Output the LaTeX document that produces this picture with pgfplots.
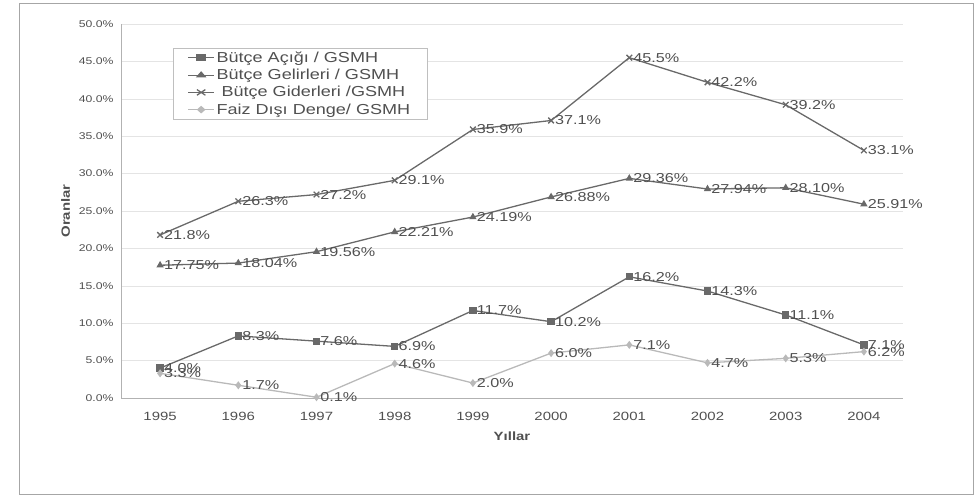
\documentclass[border=0pt]{standalone}
\usepackage{fontspec}
\setmainfont{Liberation Sans}[FakeStretch=1.25]
\usepackage{pgfplots}
\pgfplotsset{compat=1.18}

\definecolor{lineDark}{RGB}{105,105,105}
\definecolor{lineLight}{RGB}{185,185,185}
\definecolor{txt}{RGB}{80,80,80}
\definecolor{gridc}{RGB}{228,228,228}

\begin{document}
\begin{tikzpicture}
\begin{axis}[
  scale only axis,
  width=782bp, height=374bp,
  xmin=-0.5, xmax=9.5,
  ymin=0, ymax=50,
  xtick={0,...,9},
  xticklabels={1995,1996,1997,1998,1999,2000,2001,2002,2003,2004},
  ytick={0,5,...,50},
  yticklabel={\pgfmathprintnumber[fixed,fixed zerofill,precision=1]{\tick}\%},
  /pgf/number format/assume math mode=true,
  yticklabel style={font=\fontsize{9.8}{12}\selectfont, text=txt, xshift=-4bp},
  xticklabel style={font=\fontsize{12}{14}\selectfont, text=txt, yshift=-11bp},
  major tick length=0pt,
  axis lines*=left,
  axis line style={draw=gray!60, line width=0.8pt},
  ymajorgrids, grid style={draw=gridc, line width=0.6pt},
  xlabel={\textbf{Yıllar}},
  ylabel={\textbf{Oranlar}},
  label style={font=\fontsize{12}{14}\selectfont, text=txt},
  xlabel style={yshift=-4bp},
  ylabel style={yshift=2bp},
  clip=false,
  legend style={at={(rel axis cs:0.066,0.937)}, anchor=north west,
    draw=gray!50, font=\fontsize{14.5}{17}\selectfont, text=txt,
    row sep=1.3pt, inner xsep=15pt, inner ysep=2pt,
    nodes={inner sep=2pt}},
  legend image post style={xscale=1.5},
  legend cell align=left,
  nodes near coords,
  every node near coord/.append style={anchor=west, xshift=0bp, text=txt,
    font=\fontsize{13}{15}\selectfont},
  every axis plot/.append style={line width=1.3pt},
]
% Budget deficit / GNP
\addplot[color=lineDark, mark=square*, mark size=3pt,
  mark options={fill=lineDark},
  nodes near coords={\pgfmathprintnumber[fixed,fixed zerofill,precision=1]{\pgfplotspointmeta}\%}]
  coordinates {(0,4.0)(1,8.3)(2,7.6)(3,6.9)(4,11.7)(5,10.2)(6,16.2)(7,14.3)(8,11.1)(9,7.1)};
\addlegendentry{Bütçe Açığı / GSMH}
% Budget revenues / GNP
\addplot[color=lineDark, mark=triangle*, mark size=3pt,
  mark options={fill=lineDark},
  nodes near coords={\pgfmathprintnumber[fixed,fixed zerofill,precision=2]{\pgfplotspointmeta}\%}]
  coordinates {(0,17.75)(1,18.04)(2,19.56)(3,22.21)(4,24.19)(5,26.88)(6,29.36)(7,27.94)(8,28.10)(9,25.91)};
\addlegendentry{Bütçe Gelirleri / GSMH}
% Budget expenditures / GNP
\addplot[color=lineDark, mark=x, mark size=4pt,
  nodes near coords={\pgfmathprintnumber[fixed,fixed zerofill,precision=1]{\pgfplotspointmeta}\%}]
  coordinates {(0,21.8)(1,26.3)(2,27.2)(3,29.1)(4,35.9)(5,37.1)(6,45.5)(7,42.2)(8,39.2)(9,33.1)};
\addlegendentry{\ Bütçe Giderleri /GSMH}
% Primary balance / GNP
\addplot[color=lineLight, mark=diamond*, mark size=3pt,
  mark options={fill=lineLight},
  nodes near coords={\pgfmathprintnumber[fixed,fixed zerofill,precision=1]{\pgfplotspointmeta}\%}]
  coordinates {(0,3.3)(1,1.7)(2,0.1)(3,4.6)(4,2.0)(5,6.0)(6,7.1)(7,4.7)(8,5.3)(9,6.2)};
\addlegendentry{Faiz Dışı Denge/ GSMH}
\coordinate (O) at (rel axis cs:0,0);
\end{axis}
% page extent and outer frame
\path ([shift={(-121bp,-99bp)}]O) rectangle ([shift={(856bp,398bp)}]O);
\draw[gray!70, line width=1pt] ([shift={(-102bp,-96bp)}]O) rectangle ([shift={(852bp,394bp)}]O);
\end{tikzpicture}
\end{document}
